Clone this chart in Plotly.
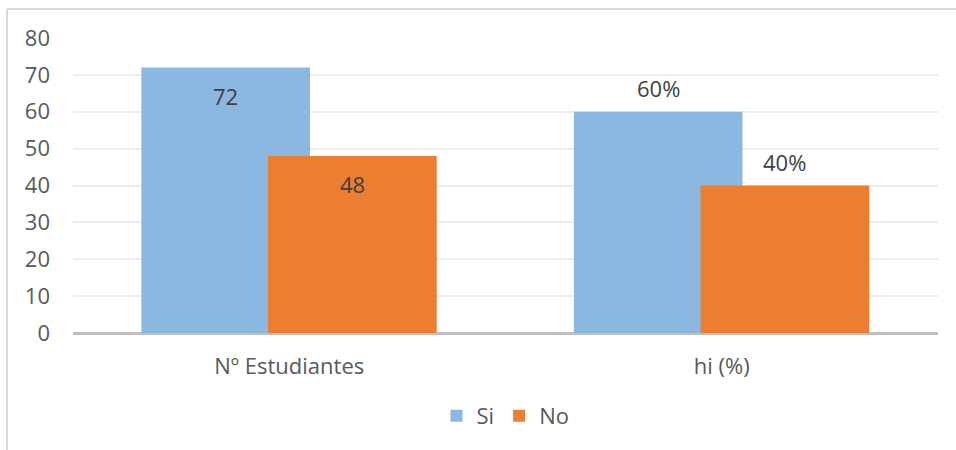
import plotly.graph_objects as go

# Survey results: number of students and relative frequency
categories = ["Nº Estudiantes", "hi (%)"]
si_values = [72, 60]
no_values = [48, 40]
si_labels = ["72", "60%"]
no_labels = ["48", "40%"]
y_ticks = [0, 10, 20, 30, 40, 50, 60, 70, 80]

BLUE = "#8BB8E1"
ORANGE = "#ED7D31"
FONT = "Open Sans"
FS = 22

x_pos = [0, 1]
bar_w = 0.39

fig = go.Figure()
fig.add_trace(go.Bar(
    name="Si", x=x_pos, y=si_values, width=bar_w, offset=-0.342,
    marker=dict(color=BLUE, line=dict(width=0)),
))
fig.add_trace(go.Bar(
    name="No", x=x_pos, y=no_values, width=bar_w, offset=-0.049,
    marker=dict(color=ORANGE, line=dict(width=0)),
))

# Data labels: first group inside the bar tops, second group above the bars
for i, xv in enumerate(x_pos):
    inside = i == 0
    shift = -28 if inside else 24
    fig.add_annotation(x=xv - 0.342 + bar_w / 2, y=si_values[i], text=si_labels[i],
                       showarrow=False, yshift=shift, xref="x", yref="y",
                       font=dict(family=FONT, size=FS, color="#404040"))
    fig.add_annotation(x=xv - 0.049 + bar_w / 2, y=no_values[i], text=no_labels[i],
                       showarrow=False, yshift=shift, xref="x", yref="y",
                       font=dict(family=FONT, size=FS, color="#404040"))

# Chart frame (top and left edges)
fig.add_shape(type="line", xref="paper", yref="paper",
              x0=-0.0763, x1=1.1, y0=1.0983, y1=1.0983,
              line=dict(color="#D9D9D9", width=2))
fig.add_shape(type="line", xref="paper", yref="paper",
              x0=-0.0763, x1=-0.0763, y0=1.0983, y1=-0.5,
              line=dict(color="#D9D9D9", width=2))

fig.update_layout(
    width=956, height=450,
    margin=dict(l=73, r=18, t=38, b=117),
    barmode="overlay",
    plot_bgcolor="white", paper_bgcolor="white",
    font=dict(family=FONT, size=FS, color="#595959"),
    showlegend=True,
    legend=dict(orientation="h", x=0.5, xanchor="center", y=-0.281, yanchor="middle",
                font=dict(family=FONT, size=FS, color="#595959"),
                itemwidth=30, tracegroupgap=0),
    xaxis=dict(
        range=[-0.5, 1.5], tickmode="array", tickvals=x_pos, ticktext=categories,
        showgrid=False, zeroline=False, showline=False, ticks="",
        ticklabelstandoff=18,
        tickfont=dict(family=FONT, size=FS, color="#595959"),
    ),
    yaxis=dict(
        range=[0, 80], tickmode="array", tickvals=y_ticks,
        showgrid=True, gridcolor="#EDEDED", gridwidth=1.5,
        zeroline=True, zerolinecolor="#BFBFBF", zerolinewidth=3,
        showline=False, ticks="", ticklabelstandoff=22,
        tickfont=dict(family=FONT, size=FS, color="#595959"),
    ),
)

fig.write_html("out.html")
